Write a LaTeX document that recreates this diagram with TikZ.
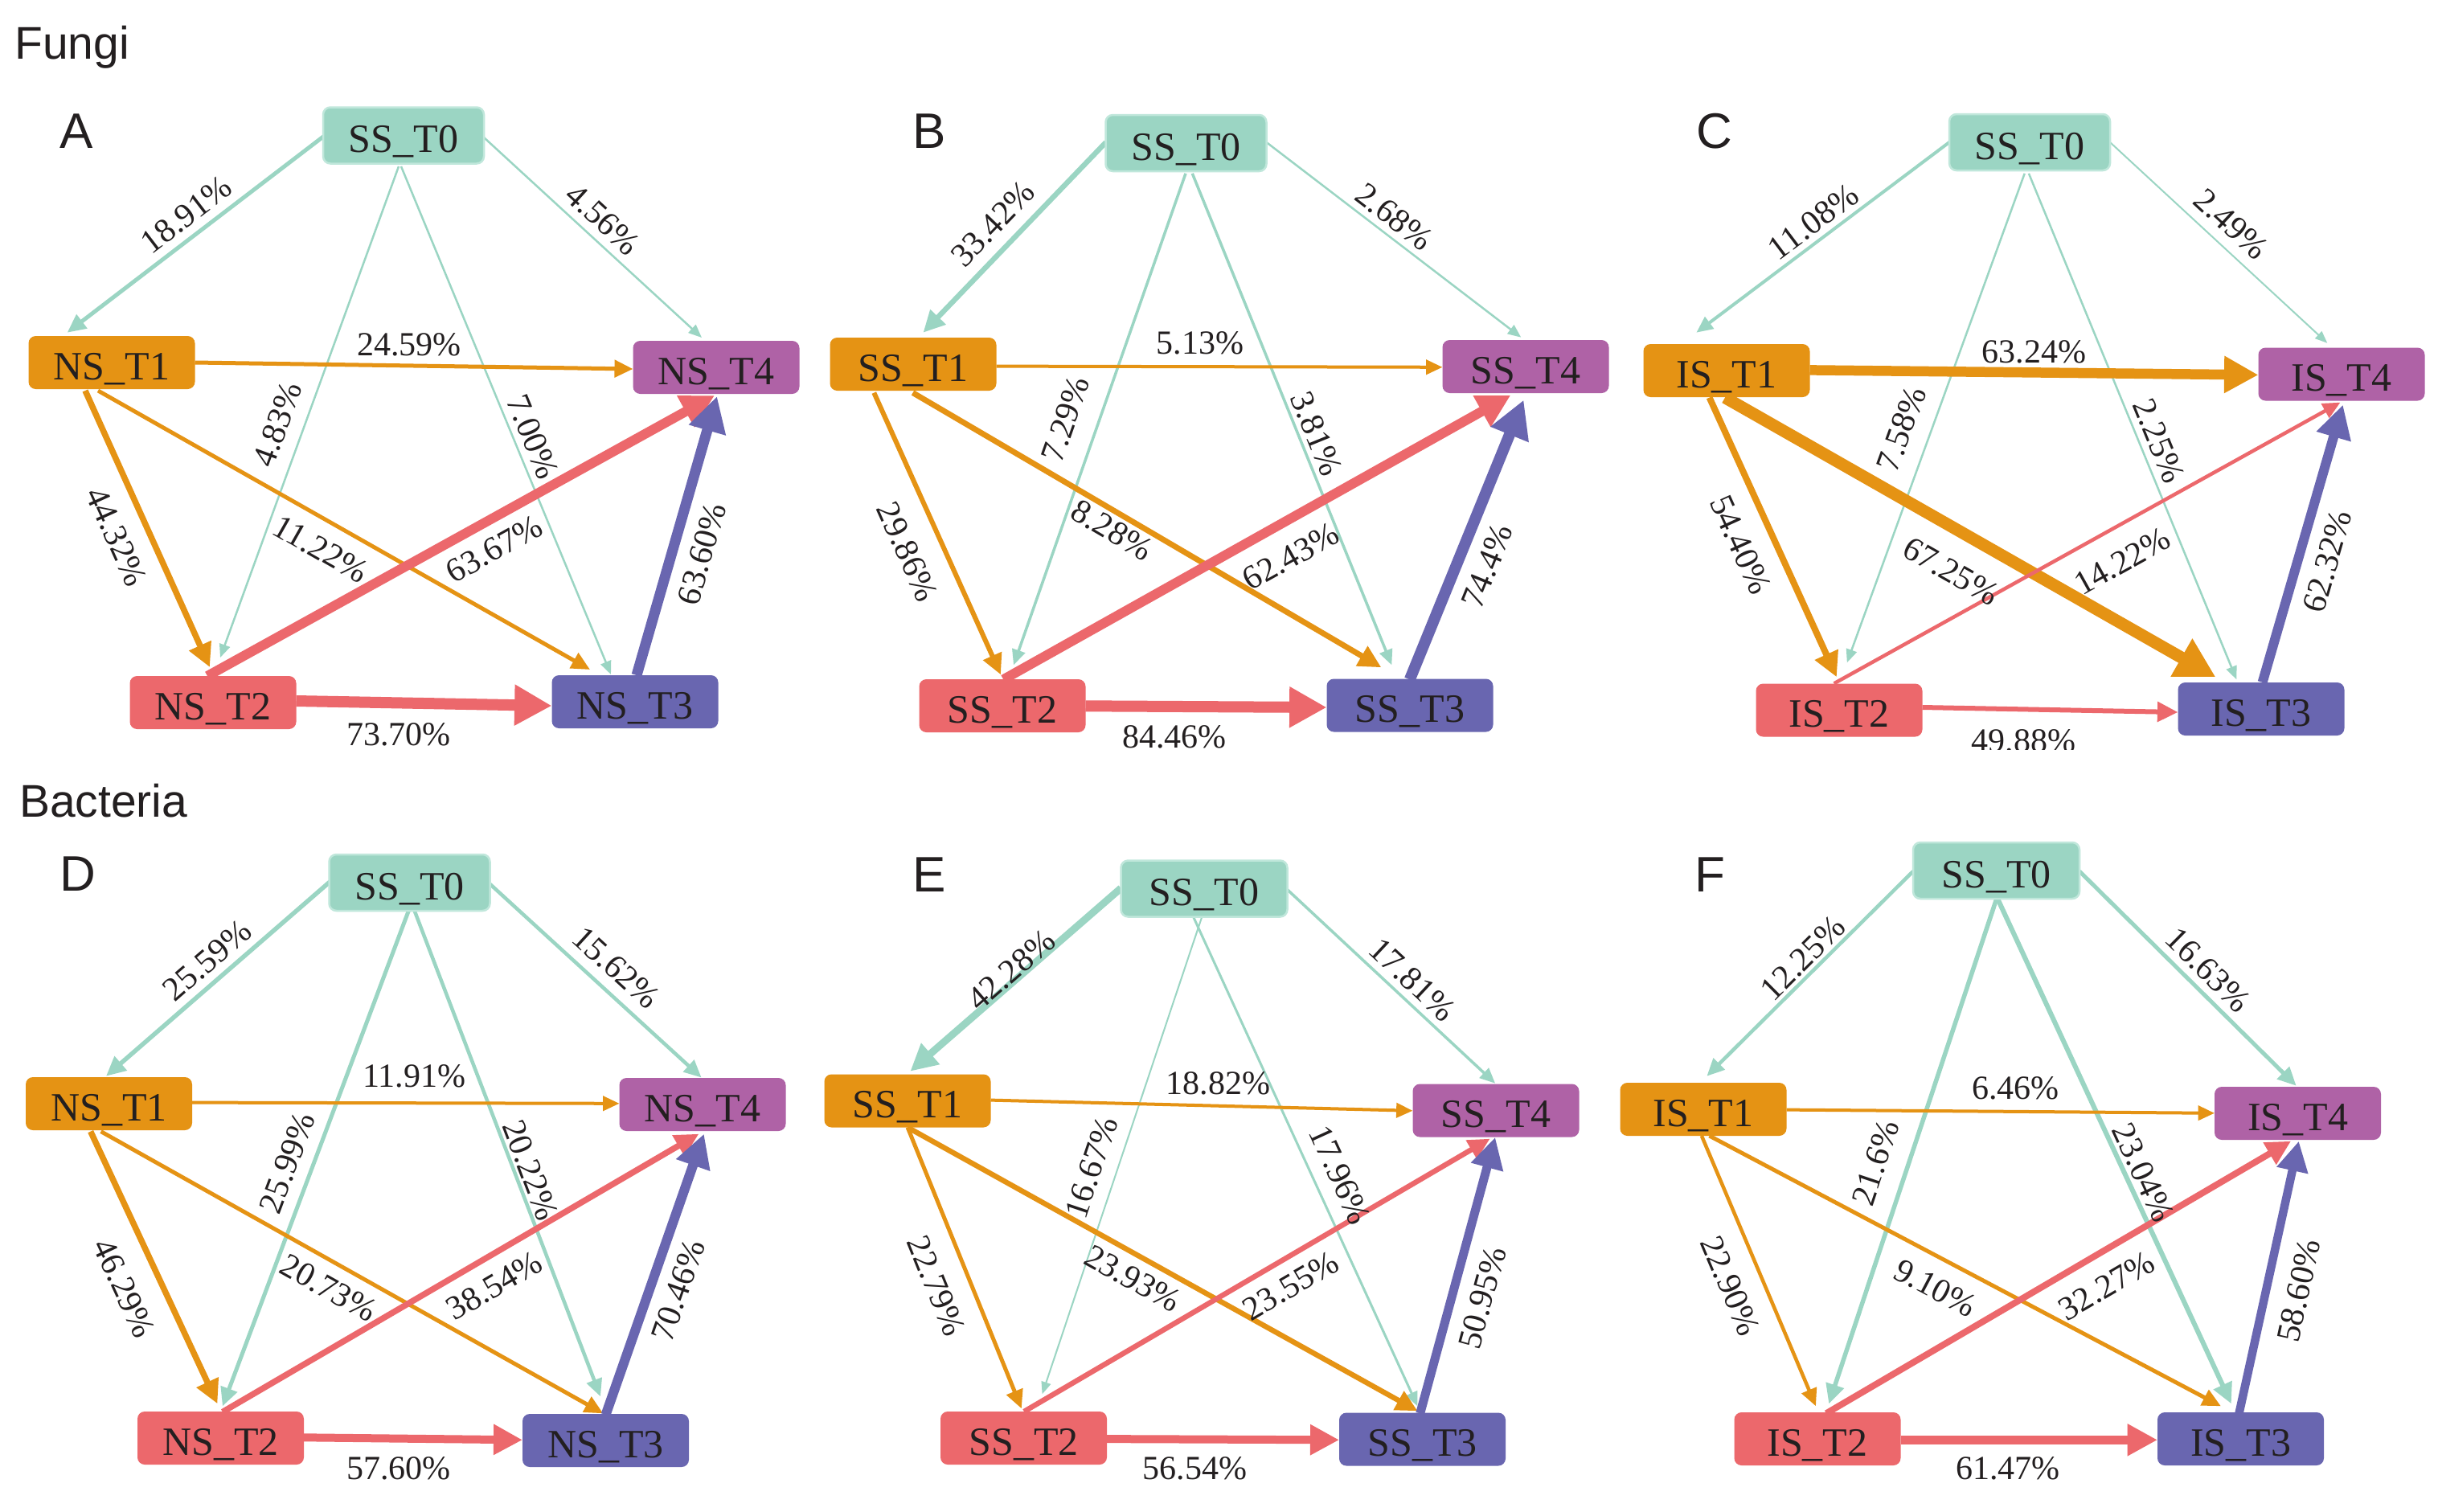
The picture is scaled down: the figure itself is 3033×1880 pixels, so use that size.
\documentclass[tikz,border=0pt]{standalone}
\usepackage{fontspec}
\setmainfont{Liberation Serif}
\newfontfamily\sansf{Liberation Sans}
\usetikzlibrary{arrows.meta,calc}
\pgfdeclarelayer{bg}
\pgfdeclarelayer{paper}
\pgfsetlayers{paper,bg,main}
\definecolor{cteal}{RGB}{155,213,195}
\definecolor{ctealL}{RGB}{192,231,219}
\definecolor{corange}{RGB}{229,147,20}
\definecolor{cred}{RGB}{236,104,108}
\definecolor{cblue}{RGB}{105,102,176}
\definecolor{cpurple}{RGB}{175,98,166}
\definecolor{txt}{RGB}{35,31,32}
\tikzset{
 box/.style={rounded corners=9pt, minimum width=207pt, minimum height=66pt, inner sep=0pt, text height=42pt, text depth=0pt, font=\fontsize{50}{50}\selectfont, text=txt},
 s0/.style={box, fill=cteal, draw=ctealL, line width=2.5pt, minimum width=200pt, minimum height=70pt},
 s1/.style={box, fill=corange},
 s2/.style={box, fill=cred},
 s3/.style={box, fill=cblue},
 s4/.style={box, fill=cpurple},
 lbl/.style={font=\fontsize{42}{42}\selectfont, inner sep=0pt, text=txt},
 arr/.style={-{Triangle[length=10pt 2.6, width=6pt 3.0]}},
 ttl/.style={font=\sansf\fontsize{57}{57}\selectfont, anchor=base west, inner sep=0pt, text=txt},
 plet/.style={font=\sansf\fontsize{62}{62}\selectfont, inner sep=0pt, text=txt}
}
% #1 colour, #2 width, #3 percentage, #4 from, #5 to, #6 #7 label centre
\newcommand\edg[7]{%
  \begin{pgfonlayer}{bg}\draw[#1, line width=#2pt, arr] #4 -- #5;\end{pgfonlayer}%
  \path let \p1=#4, \p2=#5, \n1={atan((\y2-\y1)/(\x2-\x1))} in (#6,#7) node[lbl, rotate=\n1] {#3\%};%
}
\newcommand\edh[7]{%
  \begin{pgfonlayer}{bg}\draw[#1, line width=#2pt, arr] #4 -- #5;\end{pgfonlayer}%
  \node[lbl] at (#6,#7) {#3\%};%
}
\begin{document}
\begin{tikzpicture}[x=1pt,y=-1pt]
\useasboundingbox (0,0) rectangle (3033,1880);
\begin{pgfonlayer}{paper}\fill[white] (0,0) rectangle (3033,1880);\end{pgfonlayer}

\node[ttl] (tf) at (18,73) {Fungi};
\node[ttl] (tb) at (24,1016) {Bacteria};

% ---------------- Panel A
\node[plet] (LA) at (95,163) {A};
\node[s0] (A0) at (502,168.5) {SS\_T0};
\node[s1] (A1) at (139,451) {NS\_T1};
\node[s4] (A4) at (891,457) {NS\_T4};
\node[s2] (A2) at (265,874) {NS\_T2};
\node[s3] (A3) at (790,873) {NS\_T3};
\edg{cteal}{5}{18.91}{([shift={(-99.5,1.2)}]A0.center)}{([shift={(-55.3,-37.3)}]A1.center)}{232}{267}
\edg{cteal}{2.5}{4.56}{([shift={(100,2.5)}]A0.center)}{([shift={(-18,-37)}]A4.center)}{750}{273}
\edg{cteal}{2.5}{4.83}{([shift={(-6,38.5)}]A0.center)}{([shift={(9,-56)}]A2.center)}{345}{528}
\edg{cteal}{2.5}{7.00}{([shift={(-3,38.5)}]A0.center)}{([shift={(-30,-34)}]A3.center)}{663}{543}
\edh{corange}{5}{24.59}{([shift={(103.5,0)}]A1.center)}{([shift={(-103.5,2)}]A4.center)}{509}{429}
\edg{corange}{7.5}{44.32}{([shift={(-33,35)}]A1.center)}{([shift={(-4,-44)}]A2.center)}{145}{668}
\edg{corange}{5}{11.22}{([shift={(-17,35)}]A1.center)}{([shift={(-56,-40)}]A3.center)}{399}{683}
\edg{cred}{12}{63.67}{([shift={(-7,-33)}]A2.center)}{([shift={(-2,35)}]A4.center)}{615}{683}
\edg{cblue}{13}{63.60}{([shift={(2,-33)}]A3.center)}{([shift={(1,36)}]A4.center)}{873}{689}
\edh{cred}{14}{73.70}{([shift={(103.5,-2)}]A2.center)}{([shift={(-103.5,5)}]A3.center)}{496}{914}

% ---------------- Panel B
\node[plet] (LB) at (1156.5,163) {B};
\node[s0] (B0) at (1475.5,178) {SS\_T0};
\node[s1] (B1) at (1136,453) {SS\_T1};
\node[s4] (B4) at (1898,456) {SS\_T4};
\node[s2] (B2) at (1247,878) {SS\_T2};
\node[s3] (B3) at (1754,877.5) {SS\_T3};
\edg{cteal}{6.5}{33.42}{([shift={(-99.7,-1)}]B0.center)}{([shift={(12.5,-39.3)}]B1.center)}{1235.4}{278.8}
\edg{cteal}{2.5}{2.68}{([shift={(100,-1)}]B0.center)}{([shift={(-5.7,-36.3)}]B4.center)}{1734.5}{269.8}
\edg{cteal}{3.5}{7.29}{([shift={(-0.5,37.8)}]B0.center)}{([shift={(14,-50.7)}]B2.center)}{1325.6}{521.6}
\edg{cteal}{3.5}{3.81}{([shift={(7.8,37.8)}]B0.center)}{([shift={(-22.7,-50.2)}]B3.center)}{1637.9}{539.6}
\edh{corange}{4}{5.13}{([shift={(103.5,2.6)}]B1.center)}{([shift={(-103.5,0.8)}]B4.center)}{1493}{426.8}
\edg{corange}{6}{29.86}{([shift={(-48.7,35.6)}]B1.center)}{([shift={(-2,-38.7)}]B2.center)}{1129}{686.4}
\edg{corange}{7}{8.28}{([shift={(-0.4,35.6)}]B1.center)}{([shift={(-35.6,-47.2)}]B3.center)}{1383.5}{659.5}
\edg{cred}{12}{62.43}{([shift={(1.3,-32.7)}]B2.center)}{([shift={(-18.6,35.6)}]B4.center)}{1605.7}{692.4}
\edg{cblue}{14}{74.4}{([shift={(-0.2,-32.2)}]B3.center)}{([shift={(-2.5,41.6)}]B4.center)}{1850}{704.4}
\edh{cred}{14}{84.46}{([shift={(103.5,0.3)}]B2.center)}{([shift={(-103.5,2.5)}]B3.center)}{1460.8}{917.2}

% ---------------- Panel C
\node[plet] (LC) at (2133,163) {C};
\node[s0] (C0) at (2525,177) {SS\_T0};
\node[s1] (C1) at (2148,461) {IS\_T1};
\node[s4] (C4) at (2913,465.5) {IS\_T4};
\node[s2] (C2) at (2288,883.5) {IS\_T2};
\node[s3] (C3) at (2813,882) {IS\_T3};
\edg{cteal}{4}{11.08}{([shift={(-100,0)}]C0.center)}{([shift={(-37.6,-47.3)}]C1.center)}{2255.8}{275.8}
\edg{cteal}{2}{2.49}{([shift={(100,0)}]C0.center)}{([shift={(-17.7,-38.7)}]C4.center)}{2775.8}{278.8}
\edg{cteal}{2.5}{7.58}{([shift={(-6.3,38.8)}]C0.center)}{([shift={(9.8,-59.2)}]C2.center)}{2365.6}{533.6}
\edg{cteal}{2.5}{2.25}{([shift={(-1.1,38.8)}]C0.center)}{([shift={(-30.7,-36.7)}]C3.center)}{2685.4}{548.5}
\edh{corange}{12.5}{63.24}{([shift={(103.5,-0.6)}]C1.center)}{([shift={(-103.5,0.9)}]C4.center)}{2530.3}{437.6}
\edg{corange}{8}{54.40}{([shift={(-21.4,33.6)}]C1.center)}{([shift={(-3.1,-41.2)}]C2.center)}{2165.4}{677.4}
\edg{corange}{15}{67.25}{([shift={(-2,33.6)}]C1.center)}{([shift={(-56.6,-39.7)}]C3.center)}{2427}{710.4}
\edg{cred}{4.5}{14.22}{([shift={(-6.4,-33.2)}]C2.center)}{([shift={(-1.5,35.1)}]C4.center)}{2640.2}{698.4}
\edg{cblue}{12}{62.32}{([shift={(1.6,-33.2)}]C3.center)}{([shift={(1.7,38.1)}]C4.center)}{2895.3}{698.4}
\begin{pgfonlayer}{bg}\draw[cred, line width=6pt, arr] ([shift={(103.5,-3.5)}]C2.center) -- ([shift={(-103.5,4)}]C3.center);\end{pgfonlayer}
\begin{scope}
\clip (2300,880) rectangle (2750,932);
\node[lbl] (lc10) at (2517.4,922) {49.88\%};
\end{scope}

% ---------------- Panel D
\node[plet] (LD) at (96.5,1087) {D};
\node[s0] (D0) at (509.5,1098) {SS\_T0};
\node[s1] (D1) at (135.5,1373) {NS\_T1};
\node[s4] (D4) at (874,1374) {NS\_T4};
\node[s2] (D2) at (274.5,1789) {NS\_T2};
\node[s3] (D3) at (753.5,1792) {NS\_T3};
\edg{cteal}{5.5}{25.59}{([shift={(-99.3,-0.9)}]D0.center)}{([shift={(-3.5,-34.3)}]D1.center)}{257.6}{1194.8}
\edg{cteal}{4.5}{15.62}{([shift={(99.1,0.9)}]D0.center)}{([shift={(-1.4,-33.5)}]D4.center)}{766.4}{1203.8}
\edg{cteal}{5}{25.99}{([shift={(-0.7,33.8)}]D0.center)}{([shift={(2.4,-39.7)}]D2.center)}{357.4}{1446.6}
\edg{cteal}{4.5}{20.22}{([shift={(5.7,33.8)}]D0.center)}{([shift={(-6.5,-54.7)}]D3.center)}{660.1}{1455.6}
\edh{corange}{4}{11.91}{([shift={(103.5,-1.4)}]D1.center)}{([shift={(-103.5,-1.2)}]D4.center)}{515.2}{1338.7}
\edg{corange}{7.5}{46.29}{([shift={(-22.8,34.6)}]D1.center)}{([shift={(-4,-42.7)}]D2.center)}{154.6}{1602.4}
\edg{corange}{5}{20.73}{([shift={(-9.9,34.6)}]D1.center)}{([shift={(-3.2,-33.7)}]D3.center)}{408.9}{1602.4}
\edg{cred}{7.5}{38.54}{([shift={(2.4,-32.5)}]D2.center)}{([shift={(-4.6,36.6)}]D4.center)}{615}{1599.5}
\edg{cblue}{12}{70.46}{([shift={(0,-31.9)}]D3.center)}{([shift={(1.8,36.6)}]D4.center)}{843.6}{1605.4}
\edh{cred}{10}{57.60}{([shift={(103.5,-0.7)}]D2.center)}{([shift={(-103.5,-0.7)}]D3.center)}{495.9}{1827.3}

% ---------------- Panel E
\node[plet] (LE) at (1156,1088.5) {E};
\node[s0, minimum width=207pt] (E0) at (1498,1105.5) {SS\_T0};
\node[s1] (E1) at (1129,1369.5) {SS\_T1};
\node[s4] (E4) at (1861,1381.5) {SS\_T4};
\node[s2] (E2) at (1273.5,1789) {SS\_T2};
\node[s3] (E3) at (1769.5,1790.5) {SS\_T3};
\edg{cteal}{9}{42.28}{([shift={(-103.5,-0.6)}]E0.center)}{([shift={(3.4,-36.8)}]E1.center)}{1257.9}{1206.8}
\edg{cteal}{3.5}{17.81}{([shift={(103.5,1.2)}]E0.center)}{([shift={(-0.9,-33.8)}]E4.center)}{1757}{1218.8}
\edg{cteal}{2}{16.67}{([shift={(-1.8,32.3)}]E0.center)}{([shift={(23.1,-54.7)}]E2.center)}{1357.8}{1452.6}
\edg{cteal}{3}{17.96}{([shift={(-14.7,32.3)}]E0.center)}{([shift={(-6,-41.2)}]E3.center)}{1666.9}{1461.6}
\edh{corange}{4}{18.82}{([shift={(103.5,-0.9)}]E1.center)}{([shift={(-103.5,0.3)}]E4.center)}{1515.5}{1347.7}
\edg{corange}{5}{22.79}{([shift={(0.1,33)}]E1.center)}{([shift={(-2.7,-36.7)}]E2.center)}{1164.6}{1599.5}
\edg{corange}{6.5}{23.93}{([shift={(0.1,33)}]E1.center)}{([shift={(-6,-35.2)}]E3.center)}{1409.3}{1590.5}
\edg{cred}{6.5}{23.55}{([shift={(0.5,-33)}]E2.center)}{([shift={(-7.4,35.1)}]E4.center)}{1605.7}{1599.5}
\edg{cblue}{11}{50.95}{([shift={(-2.8,-32.2)}]E3.center)}{([shift={(-0.9,33.3)}]E4.center)}{1844}{1614.4}
\edh{cred}{10}{56.54}{([shift={(103.5,1.1)}]E2.center)}{([shift={(-103.5,0.8)}]E3.center)}{1486.6}{1827.3}

% ---------------- Panel F
\node[plet] (LF) at (2127,1088.5) {F};
\node[s0, minimum width=207pt] (F0) at (2483.5,1083) {SS\_T0};
\node[s1] (F1) at (2119,1380) {IS\_T1};
\node[s4] (F4) at (2858.5,1385) {IS\_T4};
\node[s2] (F2) at (2261,1790) {IS\_T2};
\node[s3] (F3) at (2787.5,1790) {IS\_T3};
\edg{cteal}{4.5}{12.25}{([shift={(-103.5,0.9)}]F0.center)}{([shift={(4.4,-41.3)}]F1.center)}{2242.9}{1191.8}
\edg{cteal}{5}{16.63}{([shift={(103.5,0.9)}]F0.center)}{([shift={(-1.9,-34.3)}]F4.center)}{2746.8}{1206.8}
\edg{cteal}{5.5}{21.6}{([shift={(0.3,35)}]F0.center)}{([shift={(14.2,-43.7)}]F2.center)}{2333.3}{1446.6}
\edg{cteal}{6}{23.04}{([shift={(1.6,35)}]F0.center)}{([shift={(-11.7,-43.7)}]F3.center)}{2666}{1458.6}
\edh{corange}{4}{6.46}{([shift={(103.5,0.6)}]F1.center)}{([shift={(-103.5,-0.2)}]F4.center)}{2507.7}{1353.7}
\edg{corange}{4.5}{22.90}{([shift={(-2.1,33)}]F1.center)}{([shift={(-2,-40.7)}]F2.center)}{2152.4}{1599.5}
\edg{corange}{5}{9.10}{([shift={(7.6,33)}]F1.center)}{([shift={(-24.6,-40.7)}]F3.center)}{2407.6}{1602.4}
\edg{cred}{8}{32.27}{([shift={(10.9,-31.7)}]F2.center)}{([shift={(-8.4,34.6)}]F4.center)}{2620.8}{1599.5}
\edg{cblue}{10.5}{58.60}{([shift={(-2,-31.7)}]F3.center)}{([shift={(1.3,34.6)}]F4.center)}{2859.8}{1605.4}
\edh{cred}{10.5}{61.47}{([shift={(103.5,1.3)}]F2.center)}{([shift={(-103.5,1.3)}]F3.center)}{2498}{1827.3}
\end{tikzpicture}
\end{document}
